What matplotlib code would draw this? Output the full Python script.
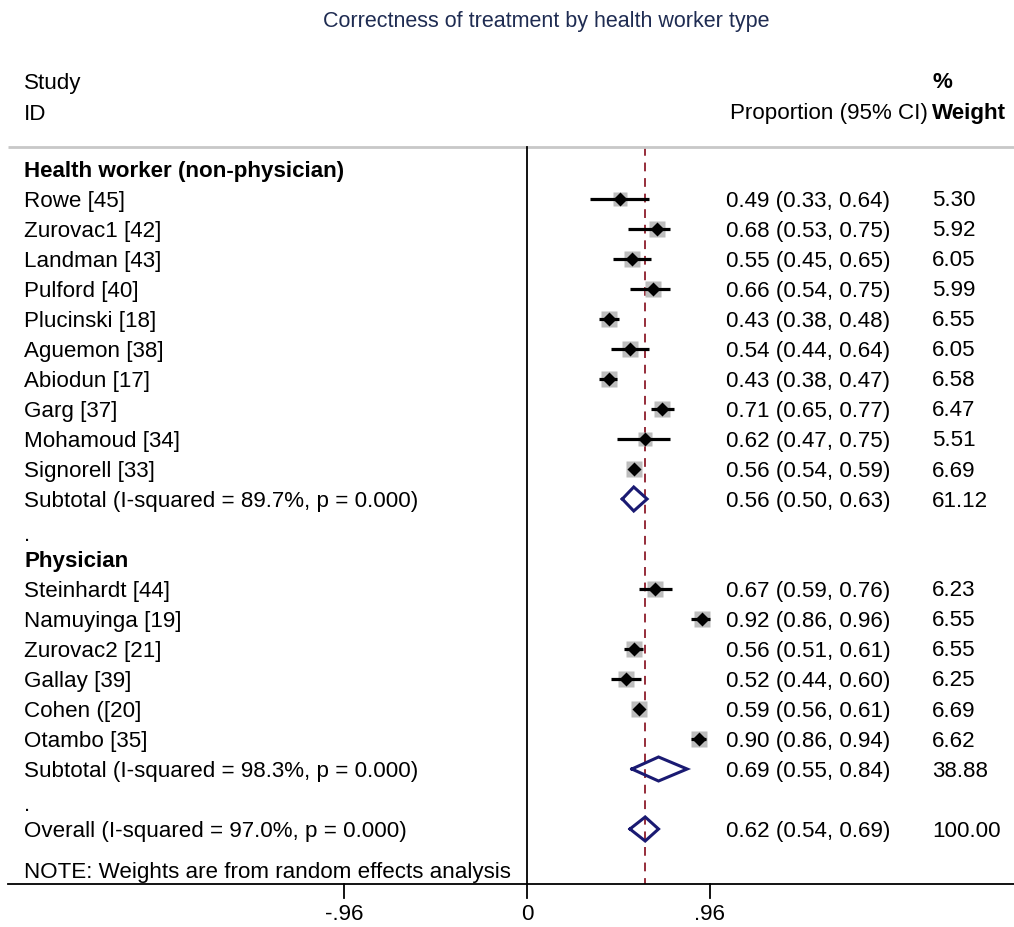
import matplotlib.pyplot as plt
import matplotlib as mpl
import numpy as np

mpl.rcParams['font.family'] = ['Liberation Sans', 'DejaVu Sans']

title = "Correctness of treatment by health worker type"

# Health worker (non-physician)
hw_names = ["Rowe [45]", "Zurovac1 [42]", "Landman [43]", "Pulford [40]", "Plucinski [18]",
            "Aguemon [38]", "Abiodun [17]", "Garg [37]", "Mohamoud [34]", "Signorell [33]"]
hw_est = [0.49, 0.68, 0.55, 0.66, 0.43, 0.54, 0.43, 0.71, 0.62, 0.56]
hw_lo = [0.33, 0.53, 0.45, 0.54, 0.38, 0.44, 0.38, 0.65, 0.47, 0.54]
hw_hi = [0.64, 0.75, 0.65, 0.75, 0.48, 0.64, 0.47, 0.77, 0.75, 0.59]
hw_w = [5.30, 5.92, 6.05, 5.99, 6.55, 6.05, 6.58, 6.47, 5.51, 6.69]
hw_sub = [0.56, 0.50, 0.63, 61.12]
hw_i2 = "89.7%"

# Physician
ph_names = ["Steinhardt [44]", "Namuyinga [19]", "Zurovac2 [21]", "Gallay [39]", "Cohen ([20]", "Otambo [35]"]
ph_est = [0.67, 0.92, 0.56, 0.52, 0.59, 0.90]
ph_lo = [0.59, 0.86, 0.51, 0.44, 0.56, 0.86]
ph_hi = [0.76, 0.96, 0.61, 0.60, 0.61, 0.94]
ph_w = [6.23, 6.55, 6.55, 6.25, 6.69, 6.62]
ph_sub = [0.69, 0.55, 0.84, 38.88]
ph_i2 = "98.3%"

overall = [0.62, 0.54, 0.69, 100.00]
overall_i2 = "97.0%"

xticks = [-0.96, 0, 0.96]
xticklabels = ["-.96", "0", ".96"]

W, H = 1014, 927
fig = plt.figure(figsize=(W / 100, H / 100), dpi=100)
ax = fig.add_axes([0, 0, 1, 1])

# pixel -> data helpers (0 at x=527, .96 at x=710; rows 30px apart from y=169)
ppu = 183 / 0.96
def px(x):
    return (x - 527) / ppu
def row(y):
    return (y - 169) / 30.0

ax.set_xlim(px(0), px(W))
ax.set_ylim(row(H), row(0))
ax.axis('off')

fs = 16.1
navy = '#1a1a72'
gray_sq = '#bdbdbd'
dy = 2 / 30.0  # text sits a touch below the marker row

col_name = px(24)
col_est = px(726)
col_w = px(932)


def txt(x, y, s, **kw):
    kw.setdefault('ha', 'left')
    kw.setdefault('fontsize', fs)
    ax.text(x, y + dy, s, va='center', **kw)


# headers
ax.text(px(546), row(22), title, ha='center', va='center', fontsize=15.5, color='#1f2c52')
txt(col_name, row(81), "Study")
txt(col_name, row(112), "ID")
txt(px(928), row(112), "Proportion (95% CI)", ha='right')
txt(col_w, row(112), "Weight", fontweight='bold')
txt(px(942), row(81), "%", ha='center', fontweight='bold')

ax.plot([px(8), px(W)], [row(147), row(147)], color='#c8c8c8', lw=2, solid_capstyle='butt')


def fmt(e, l, h):
    return "%.2f (%.2f, %.2f)" % (e, l, h)


def draw_diamond(r, s):
    e, l, h = s[0], s[1], s[2]
    ax.plot([l, e, h, e, l], [r, r - 0.4, r, r + 0.4, r], color=navy, lw=2.2, zorder=4,
            solid_joinstyle='miter')


def draw_group(start, header, names, est, lo, hi, w, sub, i2):
    txt(col_name, start, header, fontweight='bold')
    for i in range(len(names)):
        r = start + 1 + i
        ax.plot([lo[i], hi[i]], [r, r], color='black', lw=2.3, solid_capstyle='butt', zorder=3)
        ax.plot(est[i], r, marker='s', ms=6.3 * np.sqrt(w[i]) * 0.72, color=gray_sq,
                mec='none', zorder=2)
        ax.plot(est[i], r, marker='D', ms=7.0, color='black', mec='none', zorder=4)
        txt(col_name, r, names[i])
        txt(col_est, r, fmt(est[i], lo[i], hi[i]))
        txt(col_w, r, "%.2f" % w[i])
    r = start + 1 + len(names)
    draw_diamond(r, sub)
    txt(col_name, r, "Subtotal (I-squared = %s, p = 0.000)" % i2)
    txt(col_est, r, fmt(sub[0], sub[1], sub[2]))
    txt(col_w, r, "%.2f" % sub[3])
    txt(col_name, r + 1.15, ".")
    return r + 2


r = draw_group(0, "Health worker (non-physician)", hw_names, hw_est, hw_lo, hw_hi, hw_w, hw_sub, hw_i2)
r = draw_group(r, "Physician", ph_names, ph_est, ph_lo, ph_hi, ph_w, ph_sub, ph_i2)
r_over = row(829)
draw_diamond(r_over, overall)
txt(col_name, r_over, "Overall (I-squared = %s, p = 0.000)" % overall_i2)
txt(col_est, r_over, fmt(overall[0], overall[1], overall[2]))
txt(col_w, r_over, "%.2f" % overall[3])

txt(col_name, row(870), "NOTE: Weights are from random effects analysis")

# reference lines
ax.plot([0, 0], [row(147), row(884)], color='black', lw=1.3)
ax.plot([overall[0], overall[0]], [row(147), row(884)], color='#962d3a', lw=1.4,
        dashes=(4.5, 3.5), zorder=1)

# x axis
ax.plot([px(8), px(W)], [row(884), row(884)], color='black', lw=1.3)
for t, lab in zip(xticks, xticklabels):
    ax.plot([t, t], [row(884), row(898)], color='black', lw=1.3)
    txt(t, row(912), lab, ha='center')

fig.savefig("out.png", dpi=100)
